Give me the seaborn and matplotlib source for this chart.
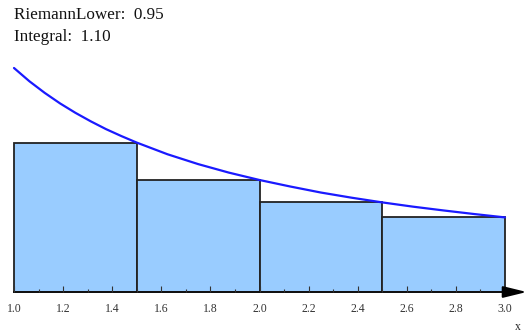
import numpy as np
import pandas as pd
import seaborn as sns
import matplotlib.pyplot as plt
from matplotlib.ticker import FixedLocator

# curve samples of f(x)
curve_x = [1.0, 1.0625, 1.125, 1.1875, 1.25, 1.3125, 1.375, 1.4375, 1.5,
           1.625, 1.75, 1.875, 2.0, 2.125, 2.25, 2.375, 2.5,
           2.625, 2.75, 2.875, 3.0]
curve_y = [1.0, 0.941, 0.889, 0.842, 0.800, 0.762, 0.727, 0.696, 0.667,
           0.615, 0.571, 0.533, 0.500, 0.471, 0.444, 0.421, 0.400,
           0.381, 0.364, 0.348, 0.333]

# lower Riemann rectangles
rect_edges = [1.0, 1.5, 2.0, 2.5, 3.0]
rect_heights = [0.667, 0.500, 0.400, 0.333]

riemann_lower = 0.95
integral = 1.10

sns.set_style("white")
plt.rcParams['font.family'] = ['Liberation Serif', 'DejaVu Serif']

fig = plt.figure(figsize=(5.31, 3.35), dpi=100)
ax = fig.add_axes([0, 0, 1, 1])
ax.set_axisbelow(False)

mids = [(a + b) / 2 for a, b in zip(rect_edges[:-1], rect_edges[1:])]
rects = pd.DataFrame({'mid': mids, 'h': rect_heights})
sns.histplot(data=rects, x='mid', weights='h', bins=rect_edges, ax=ax,
             color='#99ccff', alpha=1.0, edgecolor='#222222', linewidth=1.3)

curve = pd.DataFrame({'x': curve_x, 'y': curve_y})
sns.lineplot(data=curve, x='x', y='y', ax=ax, color='#1a1aff', linewidth=1.6)

ax.set_xlim(1 - 14 / 245.5, 1 + (531 - 14) / 245.5)
ax.set_ylim(-43 / 224, (335 - 43) / 224)

for s in ['left', 'right', 'top']:
    ax.spines[s].set_visible(False)
ax.spines['bottom'].set_position(('data', 0))
ax.spines['bottom'].set_bounds(1.0, 3.0)
ax.spines['bottom'].set_linewidth(1.4)
ax.spines['bottom'].set_color('#111111')
ax.set_yticks([])
ax.set_xticks(np.round(np.arange(1.0, 3.01, 0.2), 1))
ax.xaxis.set_minor_locator(FixedLocator(np.round(np.arange(1.1, 3.0, 0.2), 1)))
ax.tick_params(axis='x', which='major', direction='in', length=4.5, width=0.8,
               color='#333333', labelsize=8.5, pad=8, bottom=True,
               labelcolor='#333333')
ax.tick_params(axis='x', which='minor', direction='in', length=2.5, width=0.8,
               color='#333333', bottom=True)
ax.set_xlabel('')
ax.set_ylabel('')

# axis arrow
ax.annotate('', xy=(3.1, 0), xytext=(3.0, 0),
            arrowprops=dict(arrowstyle='-|>,head_length=0.9,head_width=0.22',
                            color='black', lw=1.4, mutation_scale=16),
            annotation_clip=False)
fig.text(518 / 531, 1 - 327 / 335, 'x', fontsize=8.5, ha='center', va='center')

fig.text(14 / 531, 1 - 15 / 335, f'RiemannLower:  {riemann_lower:.2f}',
         fontsize=12.3, ha='left', va='center', color='#111111')
fig.text(14 / 531, 1 - 37 / 335, f'Integral:  {integral:.2f}',
         fontsize=12.3, ha='left', va='center', color='#111111')

fig.savefig('out.png', dpi=100)
